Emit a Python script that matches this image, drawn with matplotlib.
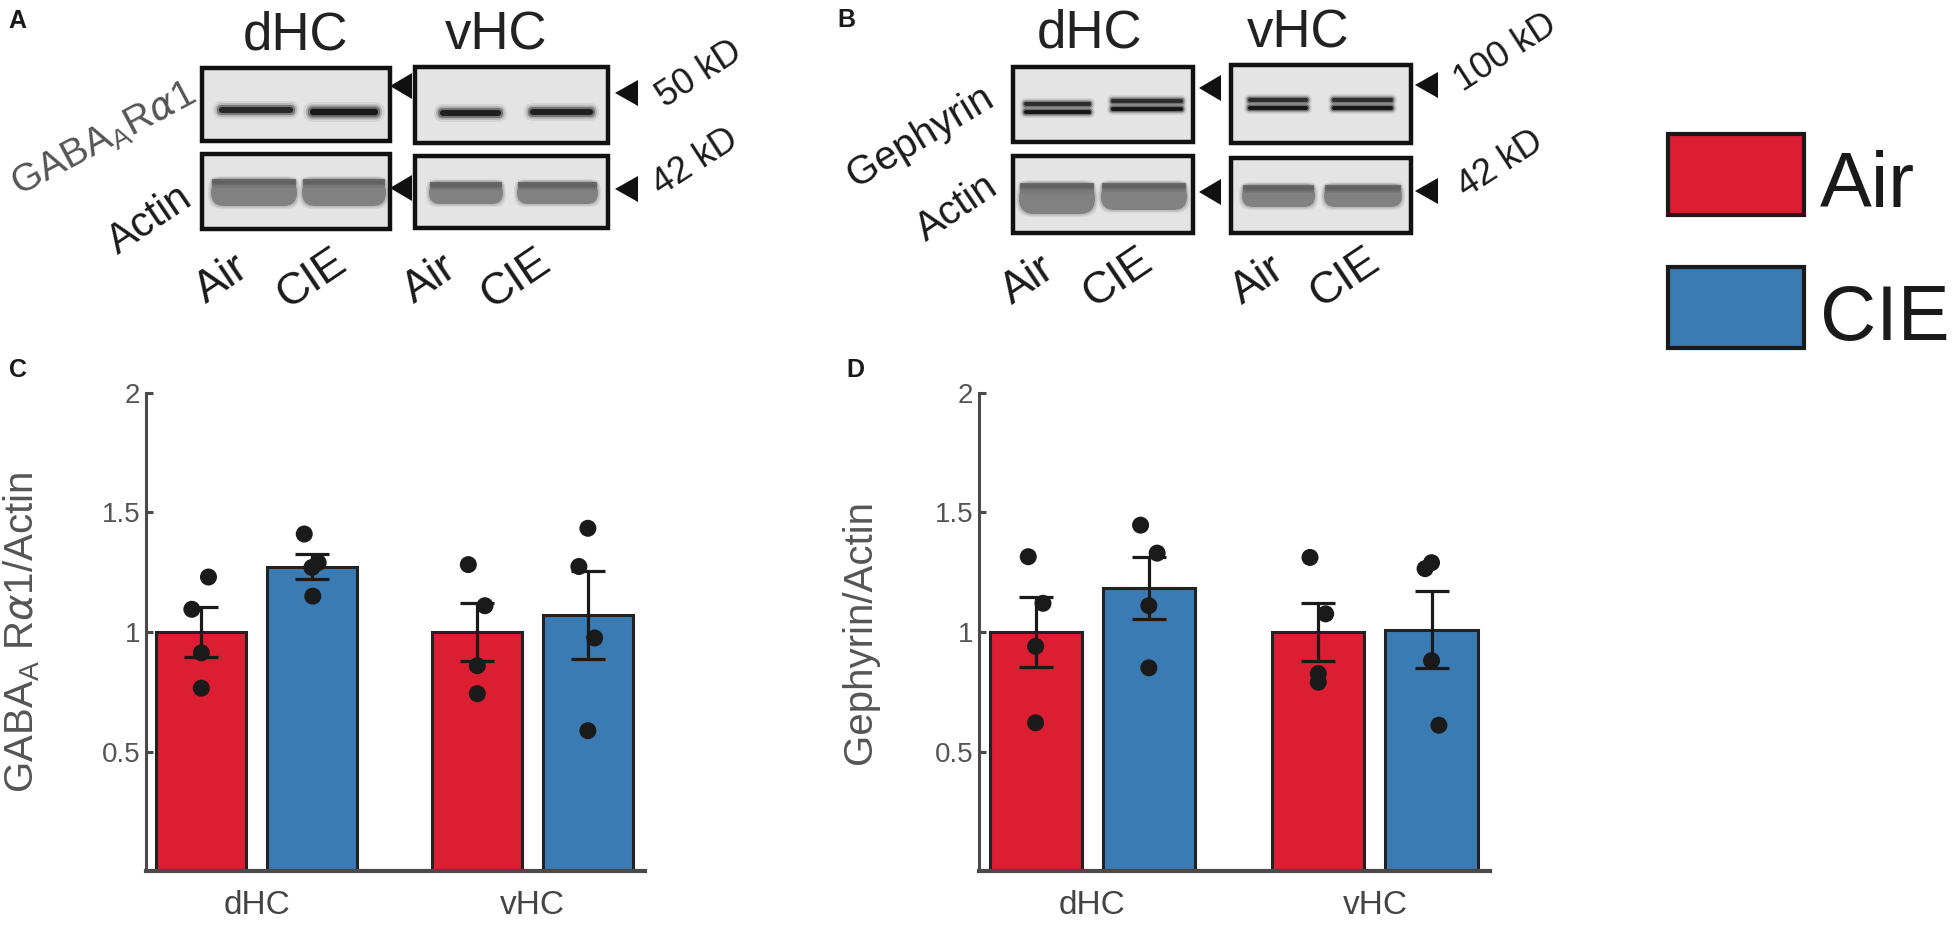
import matplotlib
matplotlib.use("Agg")
import matplotlib.pyplot as plt
from matplotlib.patches import Rectangle, FancyBboxPatch, Polygon
import numpy as np

plt.rcParams['font.family'] = ['Liberation Sans', 'DejaVu Sans']

# ---------------- data ----------------
regions = ['dHC', 'vHC']
groups = ['Air', 'CIE']

# Panel C: GABA_A R alpha1 / Actin
c_mean = {'Air': [1.00, 1.00], 'CIE': [1.274, 1.07]}
c_sem = {'Air': [0.103, 0.12], 'CIE': [0.052, 0.185]}
c_pts = {'Air': [[1.23, 1.095, 0.913, 0.765], [1.282, 1.11, 0.859, 0.742]],
         'CIE': [[1.41, 1.29, 1.27, 1.15], [1.434, 1.274, 0.975, 0.587]]}

# Panel D: Gephyrin / Actin
d_mean = {'Air': [1.00, 1.00], 'CIE': [1.185, 1.01]}
d_sem = {'Air': [0.146, 0.123], 'CIE': [0.13, 0.16]}
d_pts = {'Air': [[1.315, 1.12, 0.94, 0.62], [1.312, 1.076, 0.826, 0.79]],
         'CIE': [[1.447, 1.33, 1.11, 0.85], [1.29, 1.265, 0.88, 0.61]]}

yticks = [0.5, 1, 1.5, 2]
ytick_labels = ['0.5', '1', '1.5', '2']

# style: horizontal jitter of dots (in bar widths)
c_jit = {'Air': [[0.08, -0.105, 0, 0], [-0.1, 0.085, 0, 0]],
         'CIE': [[-0.085, 0.07, 0, 0.01], [0, -0.1, 0.075, 0]]}
d_jit = {'Air': [[-0.08, 0.08, 0, 0], [-0.09, 0.08, 0, 0]],
         'CIE': [[-0.09, 0.09, 0, 0], [0, -0.07, 0, 0.08]]}

RED = '#DC1E32'
BLUE = '#3A7BB4'
colors = {'Air': RED, 'CIE': BLUE}
AXC = '#4a4a4a'
TXT = '#555555'

W, H = 1955, 932
fig = plt.figure(figsize=(W / 100, H / 100), dpi=100)

# overlay axes in pixel coordinates (top-left origin)
ov = fig.add_axes([0, 0, 1, 1])
ov.set_xlim(0, W)
ov.set_ylim(H, 0)
ov.axis('off')
ov.patch.set_alpha(0)


def band(x0, x1, yc, h, color, core_alpha=0.9):
    layers = [(2.0, 0.08), (1.5, 0.18), (1.1, 0.4), (0.65, core_alpha)]
    for s, a in layers:
        hh = h * s
        ext = h * (s - 0.65) * 0.5
        r = hh / 2
        p = FancyBboxPatch((x0 - ext, yc - hh / 2), (x1 - x0) + 2 * ext, hh,
                           boxstyle=f"round,pad=0,rounding_size={r}",
                           fc=color, ec='none', alpha=a, zorder=3)
        ov.add_patch(p)


def actin(x0, x1, y0, y1):
    h = y1 - y0
    for ext, a in [(3, 0.12), (1.5, 0.25)]:
        p = FancyBboxPatch((x0 - ext, y0 - ext), (x1 - x0) + 2 * ext, h + 2 * ext,
                           boxstyle=f"round,pad=0,rounding_size={h * 0.5}",
                           fc='#6a6a6a', ec='none', alpha=a, zorder=3)
        ov.add_patch(p)
    p = FancyBboxPatch((x0, y0), x1 - x0, h,
                       boxstyle=f"round,pad=0,rounding_size={h * 0.5}",
                       fc='#7e7e7e', ec='none', alpha=0.95, zorder=3)
    ov.add_patch(p)
    ov.add_patch(Rectangle((x0 + 1, y0), x1 - x0 - 2, h * 0.35, fc='#7a7a7a',
                           ec='none', zorder=3))
    band(x0 + 2, x1 - 2, y0 + 3, 5, '#5c5c5c', 0.55)


def box(x0, x1, y0, y1):
    ov.add_patch(Rectangle((x0, y0), x1 - x0, y1 - y0, fc='#e4e4e4', ec='none', zorder=2))
    ov.add_patch(Rectangle((x0, y0), x1 - x0, y1 - y0, fc='none', ec='#111111',
                           lw=3.2, zorder=5))


def arrow(tip, base, yc, hh=13):
    ov.add_patch(Polygon([(tip, yc), (base, yc - hh), (base, yc + hh)],
                         closed=True, fc='#111111', ec='none', zorder=5))


BLK = '#1a1a1a'
LBL = 32

# ---------------- Panel A ----------------
ov.text(8, 28, 'A', fontsize=18, fontweight='bold', color=BLK, va='baseline')
ov.text(296, 50, 'dHC', fontsize=38, color='#222222', ha='center', va='baseline')
ov.text(496, 50, 'vHC', fontsize=38, color='#222222', ha='center', va='baseline')
box(202, 390, 68, 141)
box(202, 390, 154, 229)
box(415, 608, 67, 143)
box(415, 608, 156, 228)
band(219, 293, 110, 9, '#1e1e1e')
band(310, 378, 112, 10, '#141414', 0.95)
band(440, 501, 113, 9, '#161616')
band(530, 593, 112, 9, '#161616')
actin(211, 297, 179, 206)
actin(302, 386, 179, 206)
actin(429, 503, 182, 204)
actin(517, 598, 182, 204)
arrow(390, 412, 86)
arrow(390, 412, 188)
arrow(615, 638, 93)
arrow(615, 638, 189)
ov.text(699, 74, '50 kD', fontsize=26, rotation=33, ha='center', va='center', color=BLK)
ov.text(695, 162, '42 kD', fontsize=26, rotation=33, ha='center', va='center', color=BLK)
ov.text(104, 140, 'GABA$_\\mathregular{A}$R$\\alpha$1', fontsize=28, rotation=28,
        ha='center', va='center', color=TXT)
ov.text(150, 220, 'Actin', fontsize=30, rotation=34, ha='center', va='center', color=BLK)
for xa, xc in [(222, 312), (430, 516)]:
    ov.text(xa, 279, 'Air', fontsize=LBL, rotation=34, ha='center', va='center', color=BLK)
    ov.text(xc, 279, 'CIE', fontsize=LBL, rotation=34, ha='center', va='center', color=BLK)

# ---------------- Panel B ----------------
ov.text(837, 27, 'B', fontsize=18, fontweight='bold', color=BLK, va='baseline')
ov.text(1090, 48, 'dHC', fontsize=38, color='#222222', ha='center', va='baseline')
ov.text(1298, 48, 'vHC', fontsize=38, color='#222222', ha='center', va='baseline')
box(1013, 1193, 67, 142)
box(1013, 1193, 156, 233)
box(1231, 1411, 65, 143)
box(1231, 1411, 158, 233)
for (x0, x1, y1, y2) in [(1024, 1091, 104, 112), (1111, 1183, 101, 109),
                         (1248, 1308, 100, 108), (1332, 1393, 100, 108)]:
    band(x0, x1, y1, 6, '#202020', 0.85)
    band(x0, x1, y2, 6, '#121212', 0.95)
actin(1019, 1095, 183, 214)
actin(1101, 1187, 183, 210)
actin(1242, 1315, 185, 207)
actin(1324, 1402, 185, 207)
arrow(1199, 1221, 88)
arrow(1199, 1221, 192)
arrow(1415, 1438, 85)
arrow(1415, 1438, 191)
ov.text(1506, 53, '100 kD', fontsize=26, rotation=33, ha='center', va='center', color=BLK)
ov.text(1500, 164, '42 kD', fontsize=26, rotation=33, ha='center', va='center', color=BLK)
ov.text(920, 137, 'Gephyrin', fontsize=29, rotation=31, ha='center', va='center', color=BLK)
ov.text(957, 208, 'Actin', fontsize=29, rotation=34, ha='center', va='center', color=BLK)
for xa, xc in [(1028, 1118), (1258, 1345)]:
    ov.text(xa, 280, 'Air', fontsize=LBL, rotation=34, ha='center', va='center', color=BLK)
    ov.text(xc, 278, 'CIE', fontsize=LBL, rotation=34, ha='center', va='center', color=BLK)

# ---------------- Legend ----------------
for g, (y0, y1, yb) in zip(groups, [(134, 215, 207), (267, 348, 340)]):
    ov.add_patch(Rectangle((1668, y0), 136, y1 - y0, fc=colors[g], ec='#1a1a1a', lw=3, zorder=5))
    ov.text(1820, yb, g, fontsize=56, color=BLK, ha='left', va='baseline')

# ---------------- Panels C, D ----------------
ov.text(9, 377, 'C', fontsize=18, fontweight='bold', color=BLK, va='baseline')
ov.text(846, 377, 'D', fontsize=18, fontweight='bold', color=BLK, va='baseline')

group_x = np.array([1.23, 4.3])
off = 0.615


def bar_panel(left_px, right_px, means, sems, pts, jit, ylabel, label_x):
    top_px, bot_px = 393, 871
    ax = fig.add_axes([left_px / W, (H - bot_px) / H, (right_px - left_px) / W,
                       (bot_px - top_px) / H])
    ax.patch.set_alpha(0)
    for k, g in enumerate(groups):
        xs = group_x + (off if k else -off)
        ax.bar(xs, means[g], width=1.0, color=colors[g], edgecolor='#222222',
               linewidth=2.2, zorder=2)
        ax.errorbar(xs, means[g], yerr=sems[g], fmt='none', ecolor='#1a1a1a',
                    elinewidth=2.3, capsize=12.5, capthick=2.3, zorder=3)
        for r in range(2):
            ax.scatter(xs[r] + np.array(jit[g][r]), pts[g][r], s=150, color='#1a1a1a',
                       edgecolors='none', zorder=4)
    ax.set_xlim(0, 5.55)
    ax.set_ylim(0, 2)
    ax.set_yticks(yticks)
    ax.set_yticklabels(ytick_labels)
    ax.set_xticks(group_x)
    ax.set_xticklabels(regions)
    for s in ('top', 'right'):
        ax.spines[s].set_visible(False)
    ax.spines['left'].set_color(AXC)
    ax.spines['left'].set_linewidth(2.2)
    ax.spines['bottom'].set_color(AXC)
    ax.spines['bottom'].set_linewidth(3)
    ax.spines['bottom'].set_zorder(5)
    ax.tick_params(axis='y', direction='in', length=5, width=2.2, color=AXC,
                   labelsize=20, labelcolor=TXT, pad=4)
    ax.tick_params(axis='x', length=0, labelsize=24, labelcolor='#444444', pad=14)
    ax.set_ylabel(ylabel, fontsize=29, color=TXT)
    ax.yaxis.set_label_coords(label_x, 0.5)
    return ax


bar_panel(146, 645, c_mean, c_sem, c_pts, c_jit,
          'GABA$_\\mathregular{A}$ R$\\alpha$1/Actin', -0.208)
bar_panel(979, 1490, d_mean, d_sem, d_pts, d_jit, 'Gephyrin/Actin', -0.196)

fig.savefig('out.png', dpi=100)
